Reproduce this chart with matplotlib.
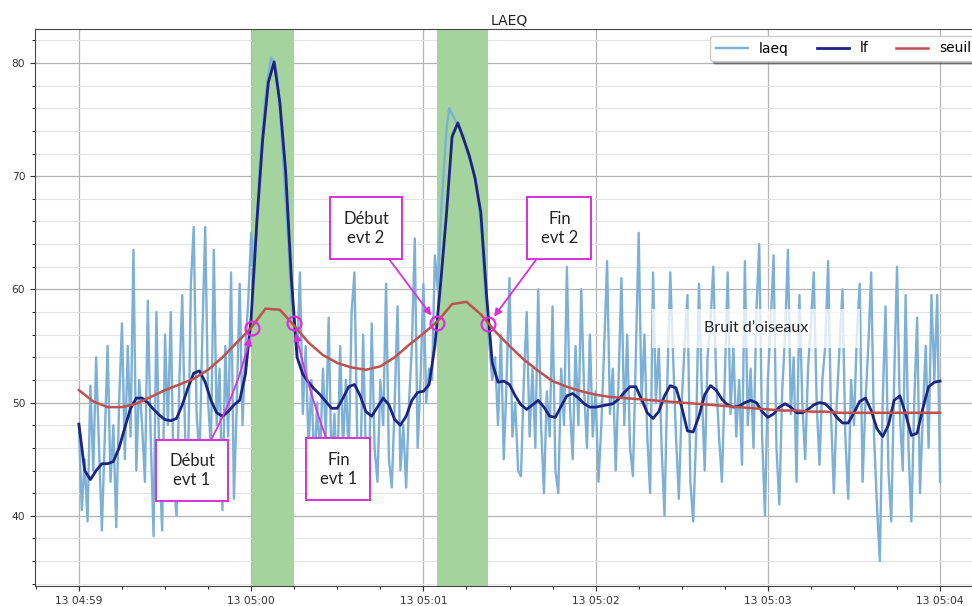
import numpy as np
import pandas as pd
import matplotlib
matplotlib.use('Agg')
import matplotlib.pyplot as plt
import matplotlib.dates as mdates
from matplotlib.patches import Rectangle

# instant de départ de l'enregistrement
debut = pd.Timestamp('2021-05-13 04:59:00')

# laeq : une valeur par seconde (0 .. 300 s)
laeq = [
    48, 40.5, 45, 39.5, 51.5, 44, 54, 46, 38.7, 47,
    55, 43, 48, 39, 50, 57, 45, 55, 47, 63.5,
    44, 52, 48, 43, 59, 47, 38.2, 58, 45, 38.7,
    56, 48, 58, 43, 40, 52, 59.5, 47, 44, 60.5,
    65.5, 49, 45, 56, 65.5, 50, 46, 63.5, 48, 53,
    40.5, 55, 47, 61.5, 41.5, 50, 60.5, 48, 55, 59,
    65, 61, 66, 71, 74, 77, 79, 80.5, 80, 79,
    76, 72, 68, 64, 59, 57, 54, 61.5, 49, 55,
    46, 52, 44, 50, 45, 53, 47, 57.5, 44, 49,
    43, 55, 46, 52, 45, 58, 61.5, 46, 43, 56,
    45, 42, 57, 46, 43, 52, 48, 60.5, 45, 42.5,
    50, 58.5, 44, 48, 42.5, 50, 55, 64.5, 46, 52,
    60.5, 50, 53, 52, 63, 60, 66, 70, 74, 76,
    75.5, 75, 74.5, 74, 73.5, 72.5, 71.5, 71, 70, 68,
    66, 62, 58, 55, 52, 54, 48, 56, 45, 52,
    61, 47, 50, 44, 43.5, 52, 58, 47, 53, 46,
    60, 48, 42, 51, 47, 58.5, 44, 42, 53, 48,
    62, 50, 45, 55, 48, 60, 51, 46, 56, 47,
    51, 43, 48, 55, 62.5, 49, 53, 44, 52, 61,
    48, 56, 46, 43.5, 54, 65, 50, 56, 47, 42,
    61.5, 50, 55, 46, 40, 52, 61.5, 54, 47, 41.5,
    50, 55, 59.5, 43, 39.5, 47, 60.5, 51, 44, 54,
    57, 62, 52, 47, 43, 52, 61.5, 49, 55, 47,
    52, 44.5, 62.5, 48, 53, 46, 58, 64, 47, 40,
    52, 57, 63, 46, 41, 51, 56, 63.5, 49, 54,
    43, 59.5, 50, 45, 53, 57, 61.5, 50, 44.5, 52,
    55, 62.5, 49, 42, 50, 55, 60, 47, 41.5, 52,
    48, 56, 60.5, 43, 50, 55, 61.5, 47, 41, 36,
    50, 58.5, 44, 39.5, 52, 62, 49, 44, 59.5, 46,
    39.5, 50, 57.5, 42, 49, 55, 46, 59.5, 52, 59.5, 43,
]

# lf (niveau filtré) : une valeur toutes les 2 s
lf = [
    48.1, 44.0, 43.2, 44.0, 44.6, 44.6, 44.8, 46.0, 47.8, 49.5,
    50.4, 50.4, 50.0, 49.4, 48.9, 48.5, 48.4, 48.6, 49.8, 51.3,
    52.6, 52.8, 51.8, 50.2, 49.1, 48.8, 49.2, 49.8, 50.2, 52.5,
    57.5, 66.0, 73.2, 78.3, 80.1, 76.5, 70.5, 61.0, 54.0, 52.5,
    51.8, 51.2, 50.7, 50.1, 49.5, 49.5, 50.4, 51.4, 51.6, 50.6,
    49.2, 48.8, 49.6, 50.4, 49.8, 48.5, 48.0, 48.8, 50.2, 50.9,
    51.0, 51.6, 55.0, 60.5, 66.5, 73.5, 74.7, 73.3, 71.8, 69.8,
    66.8, 59.5, 53.5, 51.8, 51.9, 51.6, 50.6, 49.8, 49.4, 49.8,
    50.2, 49.6, 48.8, 48.7, 49.7, 50.6, 50.8, 50.4, 49.9, 49.6,
    49.6, 49.7, 49.8, 49.9, 50.3, 50.9, 51.4, 51.4, 50.3, 49.1,
    48.6, 49.2, 50.6, 51.5, 51.3, 49.6, 47.5, 47.4, 48.8, 50.7,
    51.5, 51.1, 50.3, 49.8, 49.6, 49.7, 50.0, 50.2, 50.0, 49.2,
    48.7, 49.0, 49.6, 49.9, 49.6, 49.1, 49.1, 49.4, 49.8, 50.0,
    49.9, 49.4, 48.7, 48.2, 48.2, 49.1, 50.1, 50.4, 49.3, 47.7,
    47.0, 48.0, 50.2, 50.6, 49.0, 47.1, 47.3, 49.5, 51.4, 51.8,
    51.9,
]

# seuil : une valeur toutes les 5 s
seuil = [
    51.1, 50.1, 49.6, 49.6, 49.9, 50.5, 51.1, 51.6, 52.1, 52.9,
    54.0, 55.3, 56.6, 58.3, 58.2, 56.8, 55.3, 54.2, 53.5, 53.1,
    52.9, 53.2, 54.0, 55.1, 56.1, 57.2, 58.7, 58.9, 57.8, 56.3,
    55.0, 53.8, 52.8, 51.9, 51.4, 51.0, 50.7, 50.5, 50.4, 50.3,
    50.2, 50.1, 50.0, 49.9, 49.8, 49.7, 49.6, 49.5, 49.4, 49.3,
    49.3, 49.2, 49.2, 49.1, 49.1, 49.1, 49.1, 49.1, 49.1, 49.1,
    49.1,
]

# événements détectés (secondes depuis le début) et niveau au croisement
evt_debut = [60.3, 124.8]
evt_fin = [74.9, 142.6]
niv_debut = [56.6, 57.0]
niv_fin = [57.0, 56.9]


def sec(s):
    return debut + pd.to_timedelta(np.asarray(s, dtype=float), unit='s')


t_laeq = sec(np.arange(0, 301, 1))
t_lf = sec(np.arange(0, 301, 2))
t_seuil = sec(np.arange(0, 301, 5))

mag = '#dc2fdc'
police = 'Lato'

fig = plt.figure(figsize=(9.72, 6.06), dpi=100)
ax = fig.add_axes([35 / 972, 20 / 606, 949 / 972, 557 / 606])

for a, b in zip(evt_debut, evt_fin):
    ax.axvspan(sec(a), sec(b), color='#a4d39d', lw=0, zorder=1)

ax.plot(t_laeq, laeq, color='#7db0d7', lw=1.7, label='laeq', zorder=2)
ax.plot(t_lf, lf, color='#1b2580', lw=2, label='lf', zorder=3)
ax.plot(t_seuil, seuil, color='#c0504d', lw=1.8, label='seuil', zorder=3)

ax.plot(sec(evt_debut + evt_fin), niv_debut + niv_fin, 'o', ms=10,
        mfc='none', mec=mag, mew=1.6, zorder=5)

# zone "bruit d'oiseaux" avec fond blanc translucide
x0 = mdates.date2num(sec(199.6))
x1 = mdates.date2num(sec(272.1))
ax.add_patch(Rectangle((x0, 54.85), x1 - x0, 3.45, fc='white', ec='none',
                       alpha=0.75, zorder=4))
ax.text(sec(236), 56.6, 'Bruit d’oiseaux', ha='center', va='center',
        fontsize=11.5, family=police, color='#222222', zorder=5)

boite = dict(boxstyle='square,pad=0.8', fc='white', ec=mag, lw=1.4)
fleche = dict(arrowstyle='-|>', color=mag, lw=1.3, shrinkA=0, shrinkB=7,
              mutation_scale=11)

annotations = [
    ('Début\nevt 1', evt_debut[0], niv_debut[0], 39.4, 44.0, 'arc3,rad=0.1'),
    ('Fin\nevt 1', evt_fin[0], niv_fin[0], 90.4, 44.1, 'arc3,rad=-0.05'),
    ('Début\nevt 2', evt_debut[1], niv_debut[1], 100.0, 65.4, 'arc3,rad=0'),
    ('Fin\nevt 2', evt_fin[1], niv_fin[1], 167.4, 65.4, 'arc3,rad=0'),
]
for texte, tx, ty, bx, by, conn in annotations:
    ax.annotate(texte, xy=(sec(tx), ty), xytext=(sec(bx), by),
                ha='center', va='center', fontsize=12, family=police,
                color='#222222', linespacing=1.25, bbox=boite,
                arrowprops=dict(fleche, connectionstyle=conn), zorder=6)

ax.set_xlim(sec(-15.3), sec(315.3))
ax.set_ylim(33.8, 83.0)

ax.xaxis.set_major_locator(mdates.MinuteLocator())
ax.xaxis.set_major_formatter(mdates.DateFormatter('%d %H:%M'))
ax.xaxis.set_minor_locator(mdates.SecondLocator(bysecond=[15, 30, 45]))
ax.set_yticks([40, 50, 60, 70, 80])
ax.set_yticks(np.arange(34, 83, 2), minor=True)

ax.set_axisbelow(True)
ax.grid(which='major', color='#b4b4b4', lw=0.9)
ax.grid(which='minor', axis='y', color='#e4e4e4', lw=0.8)
ax.tick_params(labelsize=7.7, colors='#333333')
for s in ax.spines.values():
    s.set_color('#444444')

ax.set_title('LAEQ', fontsize=10, pad=3, color='#222222', fontweight='medium')
ax.legend(loc='upper right', ncol=3, fontsize=10, shadow=True, fancybox=True,
          framealpha=1, handlelength=2.3, columnspacing=2.0)

fig.savefig('out.png', dpi=100)
